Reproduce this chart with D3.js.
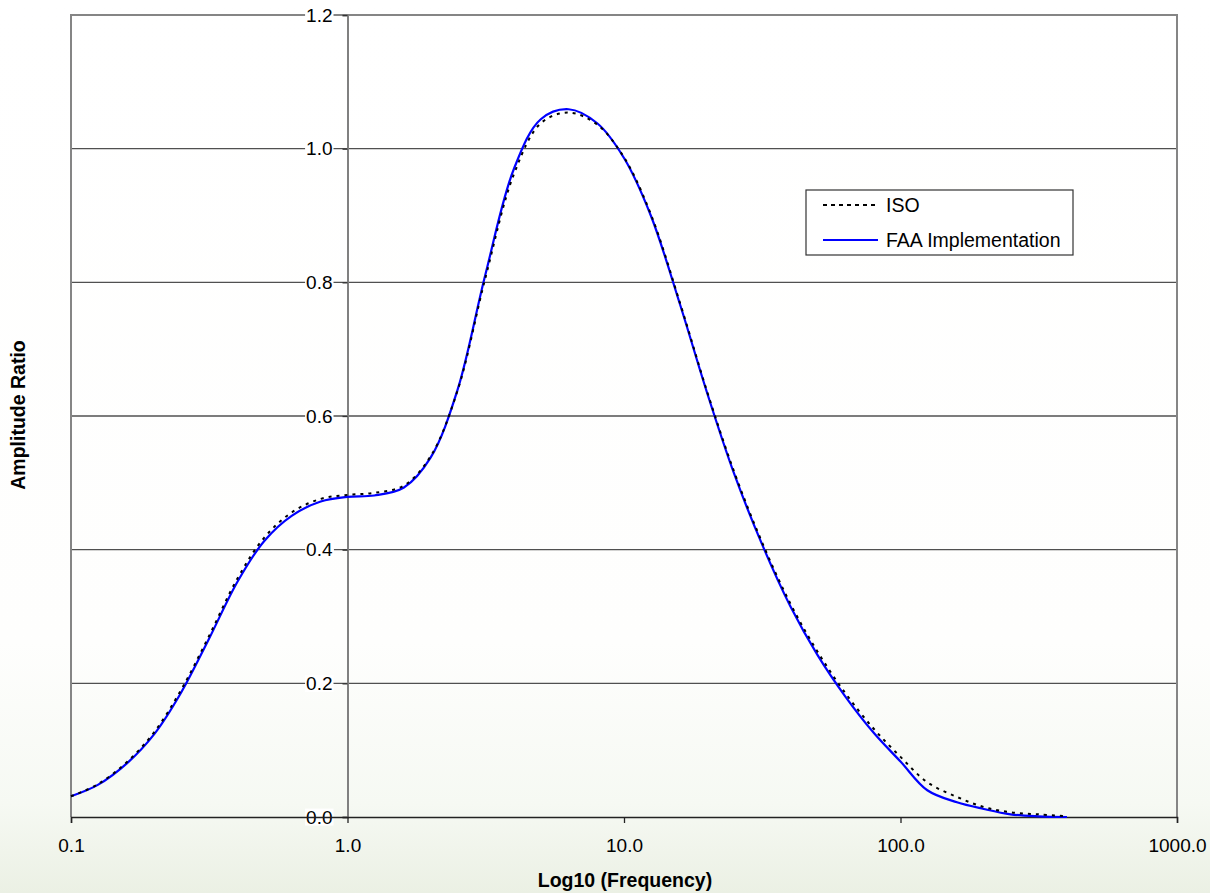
<!DOCTYPE html>
<html>
<head>
<meta charset="utf-8">
<script src="https://cdnjs.cloudflare.com/ajax/libs/d3/7.8.5/d3.min.js"></script>
<style>
  body { margin: 0; background: #fff; }
  svg { display: block; font-family: "Liberation Sans", Arial, sans-serif; }
</style>
</head>
<body>
<div id="chart"></div>
<script>
// Frame
const FRAME_WIDTH = 1210;
const FRAME_HEIGHT = 893;
const PLOT = {left: 71, right: 1177, top: 15, bottom: 817};

// frequencies (Hz), shared by both series
const FREQ = [0.1, 0.125, 0.16, 0.2, 0.25, 0.315, 0.4, 0.5, 0.63, 0.8,
              1, 1.25, 1.6, 2, 2.5, 3.15, 4, 5, 6.3, 8,
              10, 12.5, 16, 20, 25, 31.5, 40, 50, 63, 80,
              100, 125, 160, 200, 250, 315, 400];

// ISO weighting (dashed)
const ISO = [0.031, 0.049, 0.083, 0.127, 0.190, 0.270, 0.357, 0.418, 0.456, 0.476,
             0.482, 0.485, 0.496, 0.540, 0.638, 0.806, 0.962, 1.038, 1.054, 1.036,
             0.987, 0.902, 0.767, 0.636, 0.517, 0.412, 0.319, 0.248, 0.186, 0.132,
             0.090, 0.052, 0.030, 0.015, 0.007, 0.004, 0.001];

// FAA implementation (solid blue)
const FAA = [0.031, 0.048, 0.081, 0.124, 0.186, 0.266, 0.352, 0.413, 0.451, 0.472,
             0.479, 0.481, 0.493, 0.538, 0.639, 0.811, 0.970, 1.044, 1.059, 1.038,
             0.986, 0.900, 0.765, 0.634, 0.514, 0.409, 0.315, 0.243, 0.181, 0.126,
             0.083, 0.040, 0.022, 0.012, 0.004, 0.001, 0.000];

const X_TICKS = [0.1, 1, 10, 100, 1000];
const Y_TICKS = [0, 0.2, 0.4, 0.6, 0.8, 1.0, 1.2];

const svg = d3.select("#chart")
  .append("svg")
    .attr("width", FRAME_WIDTH)
    .attr("height", FRAME_HEIGHT);

// faint slide background
const grad = svg.append("defs").append("linearGradient")
    .attr("id", "bg").attr("x1", 0).attr("y1", 0).attr("x2", 0).attr("y2", 1);
grad.append("stop").attr("offset", "0%").attr("stop-color", "#ffffff");
grad.append("stop").attr("offset", "72%").attr("stop-color", "#fefefd");
grad.append("stop").attr("offset", "90%").attr("stop-color", "#f6f9f3");
grad.append("stop").attr("offset", "100%").attr("stop-color", "#ebf0e4");
svg.append("rect").attr("width", FRAME_WIDTH).attr("height", FRAME_HEIGHT).attr("fill", "url(#bg)");

const x = d3.scaleLog().domain([0.1, 1000]).range([PLOT.left, PLOT.right]);
const y = d3.scaleLinear().domain([0, 1.2]).range([PLOT.bottom, PLOT.top]);

// horizontal gridlines
svg.append("g")
  .selectAll("line")
  .data(Y_TICKS.filter(d => d > 0 && d < 1.2))
  .join("line")
    .attr("x1", PLOT.left).attr("x2", PLOT.right)
    .attr("y1", d => y(d)).attr("y2", d => y(d))
    .attr("stroke", "#505050")
    .attr("stroke-width", 1.3);

// plot border (top, left, right)
svg.append("path")
  .attr("d", `M${PLOT.left},${PLOT.bottom}V${PLOT.top}H${PLOT.right}V${PLOT.bottom}`)
  .attr("fill", "none")
  .attr("stroke", "#858585")
  .attr("stroke-width", 2);

// y axis sits at frequency 1.0
const yAxis = svg.append("g")
  .attr("transform", `translate(${x(1)},0)`)
  .call(d3.axisLeft(y).tickValues(Y_TICKS).tickFormat(d3.format(".1f")).tickSize(5).tickPadding(10));
yAxis.select(".domain").attr("stroke", "#808080").attr("stroke-width", 2);
yAxis.selectAll(".tick line").attr("stroke", "#333").attr("stroke-width", 1.3);
yAxis.selectAll(".tick text").attr("font-size", 19).attr("fill", "#000")
  .attr("font-family", "Liberation Sans, Arial, sans-serif");
yAxis.selectAll(".tick").each(function() {
  const t = d3.select(this).select("text");
  const b = t.node().getBBox();
  d3.select(this).insert("rect", "text")
    .attr("x", b.x - 1).attr("y", b.y + 2)
    .attr("width", b.width + 2).attr("height", b.height - 4)
    .attr("fill", "#fff");
});

// x axis
const xAxis = svg.append("g")
  .attr("transform", `translate(0,${PLOT.bottom})`)
  .call(d3.axisBottom(x).tickValues(X_TICKS).tickFormat(d3.format(".1f")).tickSize(6).tickPadding(16));
xAxis.select(".domain").attr("stroke", "#222").attr("stroke-width", 1.5);
xAxis.selectAll(".tick line").attr("stroke", "#222").attr("stroke-width", 1.3);
xAxis.selectAll(".tick text").attr("font-size", 19).attr("fill", "#000")
  .attr("font-family", "Liberation Sans, Arial, sans-serif");

// curves
const line = d3.line()
  .x(d => x(d[0]))
  .y(d => y(Math.max(0, d[1])))
  .curve(d3.curveCatmullRom.alpha(0.5));

svg.append("path")
  .datum(FREQ.map((f, i) => [f, FAA[i]]))
  .attr("d", line)
  .attr("fill", "none")
  .attr("stroke", "#0000ff")
  .attr("stroke-width", 2.2);

svg.append("path")
  .datum(FREQ.map((f, i) => [f, ISO[i]]))
  .attr("d", line)
  .attr("fill", "none")
  .attr("stroke", "#000")
  .attr("stroke-width", 2)
  .attr("stroke-dasharray", "3,5");

// axis titles
svg.append("text")
  .attr("x", (PLOT.left + PLOT.right) / 2 + 1)
  .attr("y", 887)
  .attr("text-anchor", "middle")
  .attr("font-size", 19.5)
  .attr("font-weight", "bold")
  .text("Log10 (Frequency)");

svg.append("text")
  .attr("transform", "translate(25,415) rotate(-90)")
  .attr("text-anchor", "middle")
  .attr("font-size", 19.5)
  .attr("font-weight", "bold")
  .text("Amplitude Ratio");

// legend
const legend = svg.append("g");
legend.append("rect")
  .attr("x", 806).attr("y", 190)
  .attr("width", 267).attr("height", 65)
  .attr("fill", "#fff")
  .attr("stroke", "#333")
  .attr("stroke-width", 1.2);

const LEGEND_ITEMS = [
  {label: "ISO", color: "#000", dash: "4,4"},
  {label: "FAA Implementation", color: "#0000ff", dash: null}
];
LEGEND_ITEMS.forEach((d, i) => {
  const ly = 205 + i * 35;
  legend.append("line")
    .attr("x1", 823).attr("x2", 878)
    .attr("y1", ly).attr("y2", ly)
    .attr("stroke", d.color)
    .attr("stroke-width", 2)
    .attr("stroke-dasharray", d.dash);
  legend.append("text")
    .attr("x", 886).attr("y", ly + 7)
    .attr("font-size", 19.5)
    .text(d.label);
});
</script>
</body>
</html>
